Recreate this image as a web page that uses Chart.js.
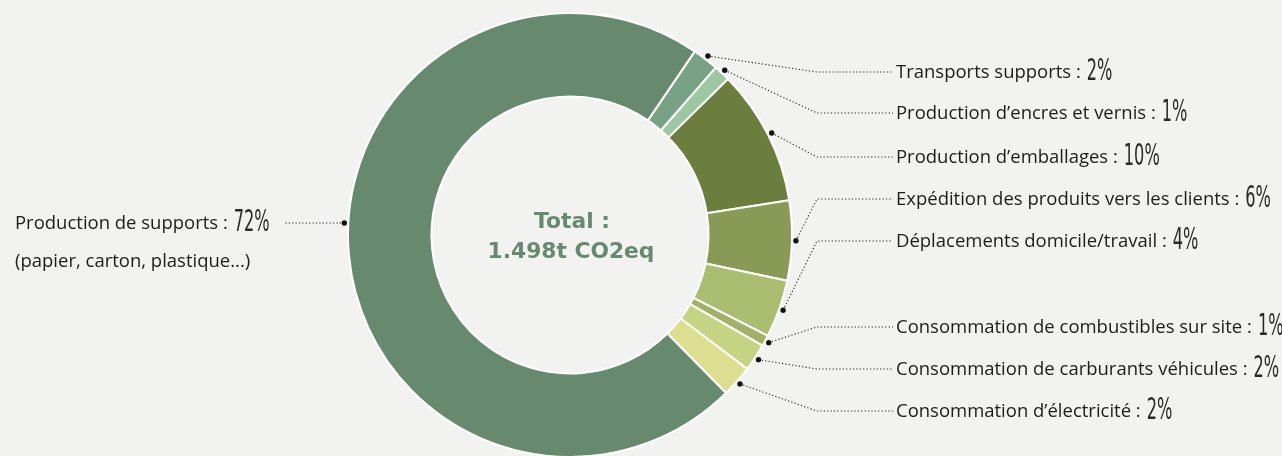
<!DOCTYPE html>
<html>
<head>
<meta charset="utf-8">
<script src="https://cdn.jsdelivr.net/npm/chart.js@4.4.0/dist/chart.umd.min.js"></script>
<style>
html,body{margin:0;padding:0;background:#f2f2f0;overflow:hidden}
#wrap{position:relative;width:1282px;height:470px}
</style>
</head>
<body>
<div id="wrap"><canvas id="calc"></canvas></div>
<script>
var labels = ["Transports supports :", "Production d\u2019encres et vernis :", "Production d\u2019emballages :",
  "Exp\u00e9dition des produits vers les clients :", "D\u00e9placements domicile/travail :",
  "Consommation de combustibles sur site :", "Consommation de carburants v\u00e9hicules :",
  "Consommation d\u2019\u00e9lectricit\u00e9 :", "Production de supports :"];
var values = [1.9, 1.2, 9.9, 5.8, 4.2, 0.8, 2.0, 2.3, 71.9];
var pctText = ["2%", "1%", "10%", "6%", "4%", "1%", "2%", "2%", "72%"];
var subText = "(papier, carton, plastique...)";
var totalText = ["Total :", "1.498t CO2eq"];
var colors = ["#79a284", "#9dc7a1", "#6b7e3d", "#899a57", "#aabd70", "#a2b06a", "#c4d483", "#dcdf8f", "#678a6e"];
var labelY = [72, 113, 157, 199, 241, 327, 369, 411, 223];

function fitFont(ctx, weight, family, text, target){
	ctx.font = weight + " 20px " + family;
	return 20 * target / ctx.measureText(text).width;
}

var leaders = {
	id: "leaders",
	afterDraw: function(chart){
		var ctx = chart.ctx;
		var meta = chart.getDatasetMeta(0);
		var fam = "'Open Sans', 'Noto Sans', sans-serif";
		var size = fitFont(ctx, "400", fam, labels[5], 356);
		var pfam = "'Liberation Sans Narrow', 'DejaVu Sans Condensed', sans-serif";
		var cx = 0, cy = 0;
		meta.data.forEach(function(arc, i){
			var p = arc.getProps(["x", "y", "startAngle", "endAngle", "outerRadius"], true);
			cx = p.x; cy = p.y;
			var y = labelY[i], dx, dy;
			var r = p.outerRadius + 4;
			if(i == 8){
				dy = y - p.y;
				dx = -Math.sqrt(r * r - dy * dy);
			} else {
				var a = (p.startAngle + p.endAngle) / 2;
				dx = Math.cos(a) * r; dy = Math.sin(a) * r;
			}
			var px = p.x + dx, py = p.y + dy;
			ctx.save();
			ctx.strokeStyle = "#222";
			ctx.lineWidth = 1.1;
			ctx.setLineDash([1.2, 2.2]);
			ctx.beginPath();
			ctx.moveTo(px, py);
			if(i == 8){
				ctx.lineTo(284, y);
			} else {
				ctx.lineTo(817, y);
				ctx.lineTo(893, y);
			}
			ctx.stroke();
			ctx.setLineDash([]);
			ctx.fillStyle = "#111";
			ctx.beginPath();
			ctx.arc(px, py, 2.7, 0, Math.PI * 2);
			ctx.fill();

			var tx = (i == 8) ? 15 : 896;
			ctx.font = "400 " + size + "px " + fam;
			ctx.fillStyle = "#1c1c1c";
			ctx.textBaseline = "alphabetic";
			ctx.textAlign = "left";
			ctx.fillText(labels[i], tx, y + 6);
			var w = ctx.measureText(labels[i]).width;
			ctx.translate(tx + w + 6, y + 8);
			ctx.scale(0.58, 1);
			ctx.font = "400 31px " + pfam;
			ctx.fillStyle = "#2a2a2a";
			ctx.fillText(pctText[i], 0, 0);
			ctx.restore();
		});
		ctx.save();
		ctx.font = "400 " + size + "px " + fam;
		ctx.fillStyle = "#1c1c1c";
		ctx.textBaseline = "alphabetic";
		ctx.fillText(subText, 15, 261 + 6);
		var cfam = "'DejaVu Sans', sans-serif";
		var csize = fitFont(ctx, "bold", cfam, totalText[1], 167);
		ctx.font = "bold " + csize + "px " + cfam;
		ctx.fillStyle = "#668a6e";
		ctx.textAlign = "center";
		ctx.textBaseline = "middle";
		ctx.fillText(totalText[0], cx + 2, 222);
		ctx.fillText(totalText[1], cx + 1, 252);
		ctx.restore();
	}
};

window.m_config = {
	type: "doughnut",
	data: {
		labels: labels,
		datasets: [{
			data: values,
			backgroundColor: colors,
			borderColor: "#ffffff",
			borderWidth: 2
		}]
	},
	options: {
		responsive: true,
		maintainAspectRatio: false,
		animation: false,
		rotation: 34.2,
		cutout: "62.4%",
		layout: { padding: { left: 347, right: 489, top: 12, bottom: 12 } },
		plugins: { legend: { display: false }, tooltip: { enabled: false } }
	},
	plugins: [leaders]
};
var ctx = document.getElementById("calc").getContext("2d");
window.fat_chart = new Chart(ctx, window.m_config);
</script>
</body>
</html>
